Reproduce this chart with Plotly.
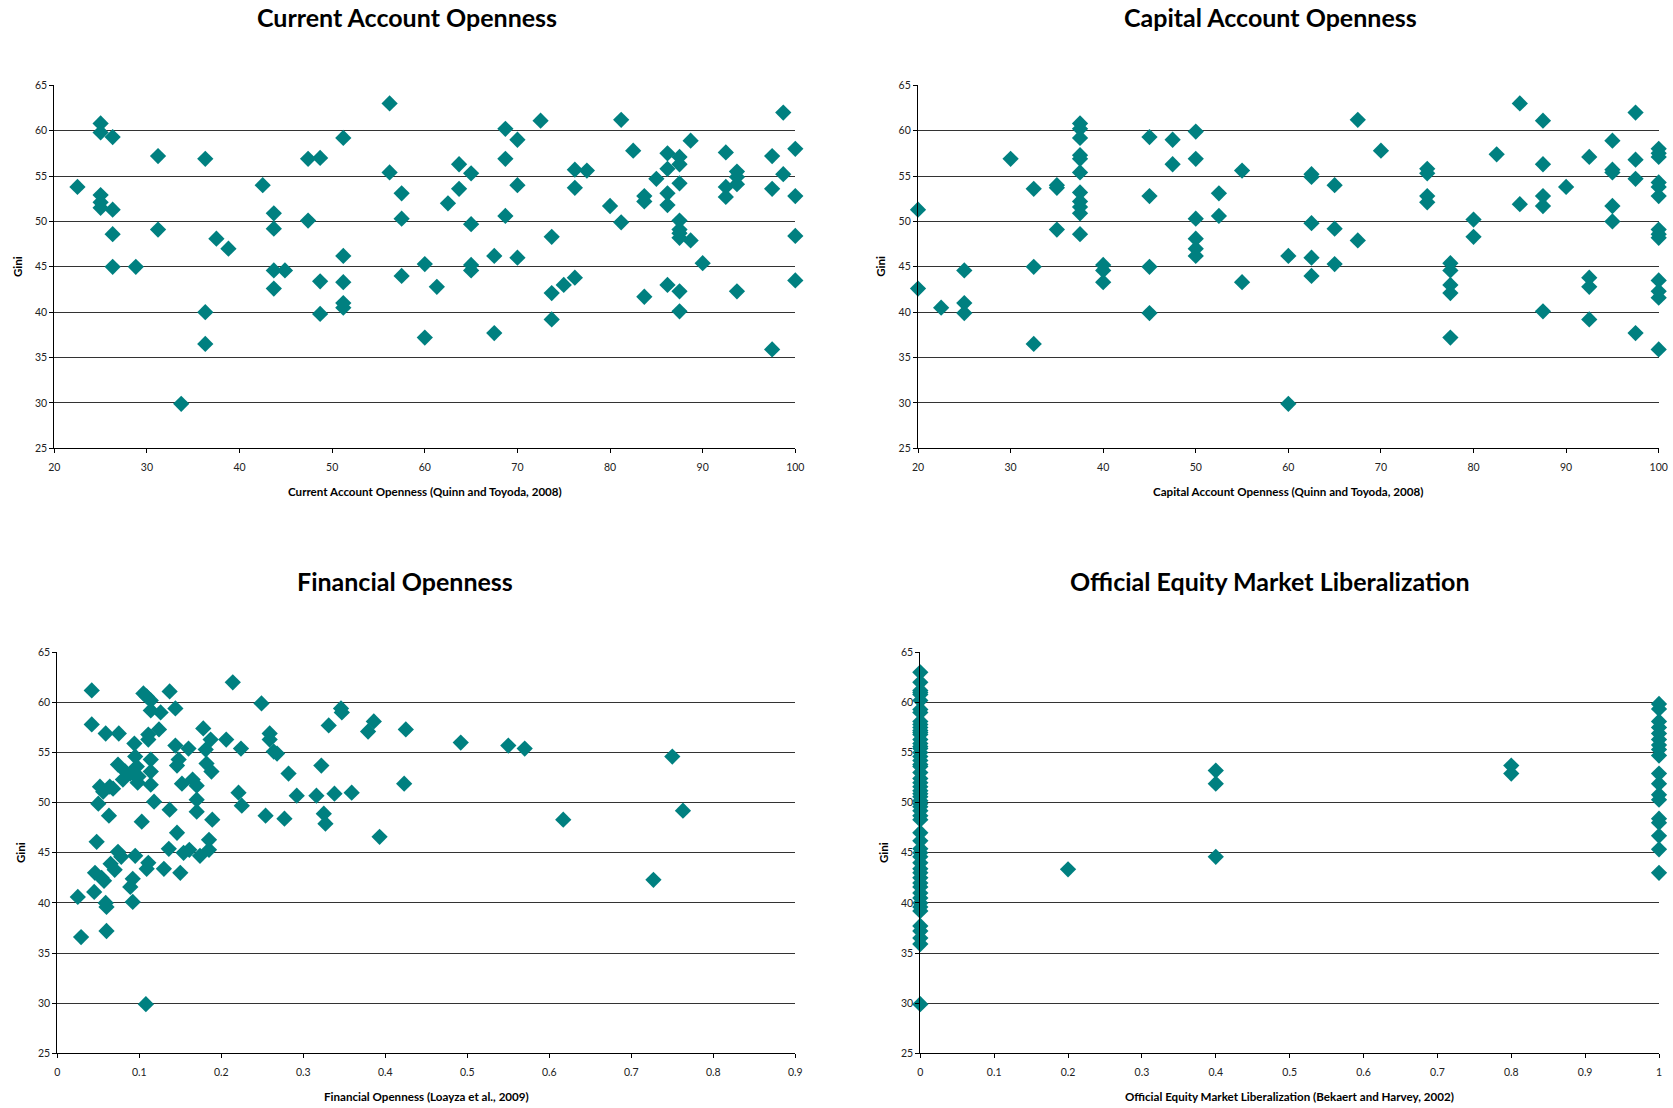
import plotly.graph_objects as go

# ---------------- Data ----------------
ca_x = [22.5, 25.0, 25.0, 26.3, 25.0, 25.0, 25.0, 26.3, 26.3, 26.3, 28.8, 31.2, 31.2, 36.3, 36.3, 36.3,
        33.7, 37.5, 38.8, 42.5, 43.7, 43.7, 43.7, 43.7, 44.9, 47.4, 48.7, 47.4, 48.7, 48.7, 51.2, 51.2,
        51.2, 51.2, 51.2, 56.2, 56.2, 57.5, 57.5, 57.5, 60.0, 60.0, 61.3, 62.5, 63.7, 63.7, 65.0, 65.0,
        65.0, 65.0, 67.5, 67.5, 68.7, 68.7, 68.7, 70.0, 70.0, 70.0, 72.5, 73.7, 73.7, 73.7, 75.0, 76.2,
        76.2, 76.2, 77.5, 80.0, 81.2, 81.2, 82.5, 83.7, 83.7, 83.7, 85.0, 86.2, 86.2, 86.2, 86.2, 86.2,
        87.5, 87.5, 87.5, 87.5, 87.5, 87.5, 87.5, 87.5, 87.5, 88.7, 88.7, 90.0, 92.5, 92.5, 92.5, 93.7,
        93.7, 93.7, 93.7, 97.5, 97.5, 97.5, 98.7, 98.7, 100, 100, 100, 100]
ca_y = [53.8, 60.8, 59.8, 59.3, 52.9, 52.1, 51.5, 51.3, 48.6, 45.0, 45.0, 57.2, 49.1, 56.9, 40.0, 36.5,
        29.9, 48.1, 47.0, 54.0, 50.9, 49.2, 44.6, 42.6, 44.6, 56.9, 57.0, 50.1, 43.4, 39.8, 59.2, 46.2,
        43.3, 41.0, 40.5, 63.0, 55.4, 53.1, 50.3, 44.0, 45.3, 37.2, 42.8, 52.0, 56.3, 53.6, 55.3, 49.7,
        45.2, 44.6, 46.2, 37.7, 60.2, 56.9, 50.6, 59.0, 54.0, 46.0, 61.1, 48.3, 42.1, 39.2, 43.0, 55.7,
        53.7, 43.8, 55.6, 51.7, 61.2, 49.9, 57.8, 52.8, 52.2, 41.7, 54.7, 57.5, 55.8, 53.1, 51.8, 43.0,
        57.1, 56.3, 54.2, 50.1, 49.1, 48.7, 48.2, 42.3, 40.1, 58.9, 47.9, 45.4, 57.6, 53.8, 52.7, 55.5,
        54.9, 54.1, 42.3, 57.2, 53.6, 35.9, 62.0, 55.2, 58.0, 52.8, 48.4, 43.5]

cap_x = [20, 20, 22.5, 25, 25, 25, 30, 32.5, 32.5, 32.5, 35, 35, 35, 37.5, 37.5, 37.5, 37.5, 37.5,
         37.5, 37.5, 37.5, 37.5, 37.5, 37.5, 40, 40, 40, 45, 45, 45, 45, 47.5, 47.5, 50, 50, 50, 50,
         50, 50, 52.5, 52.5, 55, 55, 60, 60, 62.5, 62.5, 62.5, 62.5, 62.5, 65, 65, 65, 67.5, 67.5, 70,
         75, 75, 75, 75, 77.5, 77.5, 77.5, 77.5, 77.5, 80, 80, 82.5, 85, 85, 87.5, 87.5, 87.5, 87.5,
         87.5, 90, 92.5, 92.5, 92.5, 92.5, 95, 95, 95, 95, 95, 97.5, 97.5, 97.5, 97.5, 100, 100, 100,
         100, 100, 100, 100, 100, 100, 100, 100, 100, 100]
cap_y = [51.3, 42.6, 40.5, 44.6, 41.0, 39.9, 56.9, 53.6, 45.0, 36.5, 54.0, 53.7, 49.1, 60.8, 60.2,
         59.2, 57.3, 56.9, 55.4, 53.2, 52.2, 51.6, 50.9, 48.6, 45.2, 44.6, 43.3, 59.3, 52.8, 45.0, 39.9,
         59.0, 56.3, 59.9, 56.9, 50.3, 48.1, 47.0, 46.2, 53.1, 50.6, 55.6, 43.3, 46.2, 29.9, 55.2, 54.9,
         49.8, 46.0, 44.0, 54.0, 49.2, 45.3, 61.2, 47.9, 57.8, 55.8, 55.3, 52.8, 52.1, 45.4, 44.6, 43.0,
         42.1, 37.2, 50.2, 48.3, 57.4, 63.0, 51.9, 61.1, 56.3, 52.8, 51.7, 40.1, 53.8, 57.1, 43.8, 42.8,
         39.2, 58.9, 55.7, 55.4, 51.7, 50.0, 62.0, 56.8, 54.7, 37.7, 58.0, 57.5, 57.1, 54.3, 53.8, 52.8,
         49.1, 48.6, 48.2, 43.5, 42.3, 41.6, 35.9]

fin_x = [0.025, 0.029, 0.042, 0.042, 0.045, 0.046, 0.048, 0.050, 0.052, 0.054, 0.057, 0.059, 0.059,
         0.060, 0.060, 0.056, 0.064, 0.068, 0.063, 0.065, 0.070, 0.074, 0.075, 0.074, 0.078, 0.080,
         0.083, 0.089, 0.089, 0.092, 0.092, 0.094, 0.095, 0.095, 0.097, 0.093, 0.099, 0.098, 0.103,
         0.105, 0.109, 0.111, 0.109, 0.108, 0.111, 0.111, 0.114, 0.114, 0.114, 0.114, 0.114, 0.118,
         0.124, 0.126, 0.130, 0.137, 0.136, 0.137, 0.144, 0.144, 0.146, 0.148, 0.146, 0.150, 0.152,
         0.154, 0.160, 0.161, 0.165, 0.170, 0.170, 0.170, 0.174, 0.178, 0.181, 0.182, 0.185, 0.185,
         0.187, 0.188, 0.189, 0.206, 0.214, 0.221, 0.224, 0.225, 0.249, 0.254, 0.259, 0.259, 0.264,
         0.268, 0.277, 0.282, 0.292, 0.316, 0.322, 0.325, 0.327, 0.331, 0.338, 0.346, 0.347, 0.359,
         0.379, 0.386, 0.393, 0.423, 0.425, 0.492, 0.550, 0.570, 0.617, 0.727, 0.750, 0.763]
fin_y = [40.6, 36.6, 61.2, 57.8, 41.1, 43.0, 46.1, 49.9, 51.6, 42.5, 42.2, 56.9, 40.0, 37.2, 39.6,
         51.1, 51.6, 51.4, 48.7, 43.9, 43.3, 45.1, 56.9, 53.8, 44.6, 52.3, 53.1, 52.9, 41.6, 42.4, 40.1,
         55.9, 44.7, 54.6, 53.6, 52.9, 52.6, 52.0, 48.1, 60.9, 60.6, 44.0, 43.4, 29.9, 56.8, 56.3, 60.2,
         59.2, 54.3, 53.1, 51.8, 50.1, 57.3, 59.0, 43.4, 49.3, 45.4, 61.1, 59.4, 55.7, 53.7, 54.3, 47.0,
         43.0, 51.9, 45.0, 55.4, 45.3, 52.3, 51.7, 50.3, 49.1, 44.7, 57.4, 55.3, 53.9, 46.3, 45.3, 56.3,
         53.1, 48.3, 56.3, 62.0, 51.0, 55.4, 49.7, 59.9, 48.7, 56.9, 56.3, 55.1, 54.9, 48.4, 52.9, 50.7,
         50.7, 53.7, 48.9, 47.9, 57.7, 50.9, 59.4, 59.0, 51.0, 57.1, 58.1, 46.6, 51.9, 57.3, 56.0, 55.7,
         55.4, 48.3, 42.3, 54.6, 49.2]

eq_y0 = [63.0, 62.0, 61.2, 61.0, 60.8, 60.2, 59.3, 59.0, 58.1, 57.8, 57.5, 57.2, 57.0, 56.8, 56.3,
         55.9, 55.6, 55.4, 55.0, 54.6, 54.2, 53.8, 53.6, 53.0, 52.4, 52.0, 51.6, 51.2, 50.9, 50.6,
         50.2, 49.9, 49.6, 49.2, 48.7, 48.3, 47.0, 46.2, 45.4, 45.0, 44.6, 44.0, 43.4, 43.0, 42.5,
         42.0, 41.6, 41.0, 40.5, 40.0, 39.6, 39.2, 37.7, 37.2, 36.5, 35.9, 29.9]
eq_x = [0] * len(eq_y0) + [0.2, 0.4, 0.4, 0.4, 0.8, 0.8] + [1] * 18
eq_y = eq_y0 + [43.35, 53.2, 51.9, 44.6, 53.7, 52.9] + \
       [59.85, 59.35, 58.1, 57.5, 56.9, 56.3, 55.75, 55.3, 54.7, 52.9, 51.9, 50.8, 50.3, 48.4, 48.0,
        46.7, 45.35, 43.0]

titles = ["Current Account Openness", "Capital Account Openness",
          "Financial Openness", "Official Equity Market Liberalization"]
xtitles = ["Current Account Openness (Quinn and Toyoda, 2008)",
           "Capital Account Openness (Quinn and Toyoda, 2008)",
           "Financial Openness (Loayza et al., 2009)",
           "Official Equity Market Liberalization (Bekaert and Harvey, 2002)"]
xranges = [[20, 100], [20, 100], [0, 0.9], [0, 1]]
xdticks = [10, 10, 0.1, 0.1]

# ---------------- Figure ----------------
W, H = 1673, 1108
FONT = "Lato"
TEAL = "#008080"

# plot-area pixel boxes (left, right, top, bottom)
boxes = [(54.3, 795.3, 85.3, 448.3), (918.0, 1658.7, 85.3, 448.3),
         (57.3, 795.3, 652.3, 1053.3), (920.3, 1659.0, 652.3, 1053.3)]
title_pos = [(407, 17), (1270, 17), (405, 581), (1270, 581)]

series = [(ca_x, ca_y), (cap_x, cap_y), (fin_x, fin_y), (eq_x, eq_y)]

fig = go.Figure()
annotations = []
layout = dict(width=W, height=H, margin=dict(l=0, r=0, t=0, b=0, pad=0, autoexpand=False),
              paper_bgcolor="white", plot_bgcolor="white", showlegend=False,
              font=dict(family=FONT, color="#111"), template="none")

for i, ((xs, ys), (l, r, t, b)) in enumerate(zip(series, boxes)):
    n = "" if i == 0 else str(i + 1)
    fig.add_trace(go.Scatter(x=xs, y=ys, mode="markers", xaxis="x" + n, yaxis="y" + n,
                             cliponaxis=False,
                             marker=dict(symbol="diamond", size=12.5, color=TEAL,
                                         line=dict(width=0))))
    layout["xaxis" + n] = dict(domain=[l / W, r / W], anchor="y" + n, range=xranges[i],
                               dtick=xdticks[i], tick0=0, showgrid=False, zeroline=False,
                               automargin=False, ticklabelstandoff=5,
                               showline=True, linecolor="#000", linewidth=1.2,
                               ticks="outside", ticklen=4, tickcolor="#000", tickwidth=1,
                               tickfont=dict(size=10.5, family=FONT, color="#222"))
    layout["yaxis" + n] = dict(domain=[1 - b / H, 1 - t / H], anchor="x" + n, range=[25, 65],
                               dtick=5, tick0=25, showgrid=True, gridcolor="#333", gridwidth=1,
                               zeroline=False, automargin=False,
                               showline=True, linecolor="#000", linewidth=1.2,
                               ticks="outside", ticklen=4, tickcolor="#000", tickwidth=1,
                               tickfont=dict(size=10.5, family=FONT, color="#222"))
    tx, ty = title_pos[i]
    annotations.append(dict(text=titles[i], x=tx / W, y=1 - ty / H, xref="paper", yref="paper",
                            showarrow=False, xanchor="center", yanchor="middle",
                            font=dict(size=25, family=FONT, weight="bold", color="#000")))
    annotations.append(dict(text=xtitles[i], x=(l + r) / 2 / W, y=1 - (b + 43) / H,
                            xref="paper", yref="paper", showarrow=False,
                            xanchor="center", yanchor="middle",
                            font=dict(size=11.6, family=FONT, weight="bold", color="#000")))
    annotations.append(dict(text="Gini", x=(l - 37) / W, y=1 - (t + b) / 2 / H,
                            xref="paper", yref="paper", showarrow=False, textangle=-90,
                            xanchor="center", yanchor="middle",
                            font=dict(size=11.6, family=FONT, weight="bold", color="#000")))

layout["annotations"] = annotations
fig.update_layout(**layout)
fig.write_html("out.html",
               post_script="document.body.style.margin='0';document.body.style.padding='0';")
